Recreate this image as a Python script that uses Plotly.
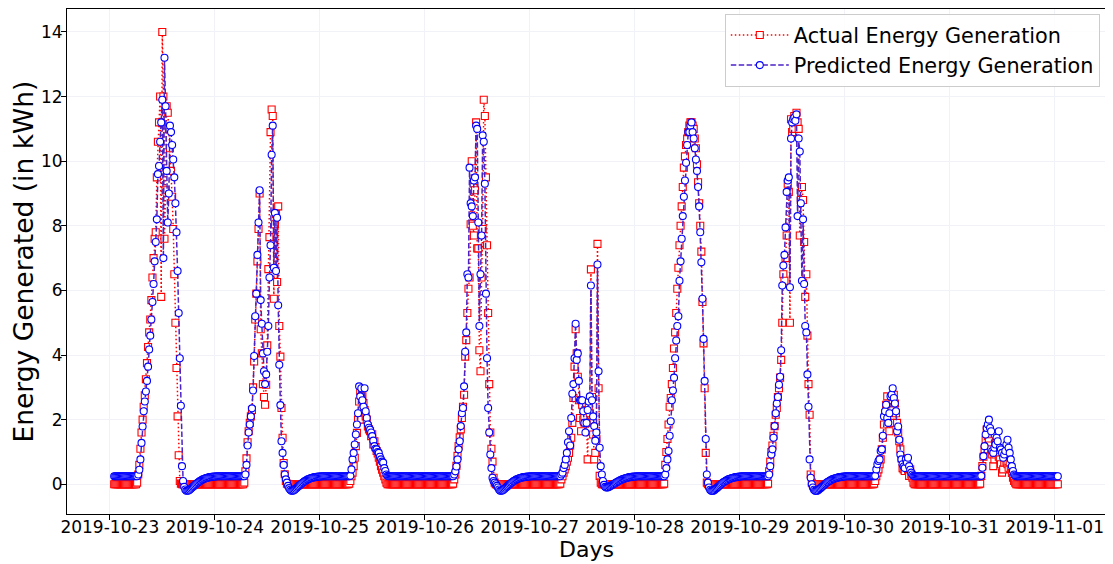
import pandas as pd
import plotly.graph_objects as go

# ---- Actual energy generation (kWh), 15-min readings, one block per day (01:00 .. 00:45) ----
act_1023 = [0,0,0,0,0,0,0,0,0,0, 0,0,0,0,0,0,0,0,0,0, 0,
 0.05,0.3,0.6,1.1,1.6,2.0,2.4,2.75,3.25,3.75,4.25,4.7,5.1,5.7,6.4,7.0,7.6,7.8,9.5,10.6,11.2,12.0,5.8,14.0,12.0,7.6,9.1,11.7,11.5,11.0,10.4,9.7,8.9,7.9,6.5,5.0,3.6,2.1,0.9,0.1,0.02,0,
 0,0,0,0,0,0,0,0,0,0, 0,0,0,0,0,0,0,0,0,0, 0,0,0,0,0,0,0,0,0,0, 0,0,0]
act_1024 = [0,0,0,0,0,0,0,0,0,0, 0,0,0,0,0,0,0,0,0,0, 0,0,0,
 0.05,0.4,0.8,1.3,1.64,1.9,2.1,2.3,3.0,3.8,5.1,5.9,6.9,7.9,9.0,4.8,4.05,3.1,2.7,2.46,3.08,4.3,6.66,7.65,10.9,11.6,11.4,5.74,8.05,8.36,6.26,8.6,4.9,3.95,2.36,1.44,0.66,0.31,0.1,0.02,0,
 0,0,0,0,0,0,0,0,0,0, 0,0,0,0,0,0,0,0,0,0, 0,0,0,0,0,0,0,0,0,0, 0,0]
act_1025 = [0,0,0,0,0,0,0,0,0,0, 0,0,0,0,0,0,0,0,0,0, 0,0,0,
 0.02,0.1,0.25,0.36,0.56,0.82,1.18,1.59,2.0,2.56,2.87,2.0,2.72,2.51,2.3,2.1,2.0,1.79,1.7,1.64,1.49,1.55,1.23,1.33,1.15,1.03,0.95,0.82,0.7,0.56,0.45,0.36,0.25,0.15,0.05,0,
 0,0,0,0,0,0,0,0,0,0, 0,0,0,0,0,0,0,0,0,0, 0,0,0,0,0,0,0,0,0,0, 0,0,0,0,0,0,0]
act_1026 = [0,0,0,0,0,0,0,0,0,0, 0,0,0,0,0,0,0,0,0,0, 0,0,
 0.02,0.15,0.3,0.57,0.88,1.18,1.45,1.7,2.05,2.4,2.77,3.95,4.46,5.3,6.05,6.4,8.05,10.0,8.0,7.7,9.1,11.2,7.3,7.3,4.15,3.5,6.4,7.9,11.9,11.4,9.5,7.4,5.3,3.1,1.6,1.1,0.7,0.2,0.05,0,0,
 0,0,0,0,0,0,0,0,0,0, 0,0,0,0,0,0,0,0,0,0, 0,0,0,0,0,0,0,0,0,0, 0,0,0]
act_1027 = [0,0,0,0,0,0,0,0,0,0, 0,0,0,0,0,0,0,0,0,0, 0,0,0,0,
 0.02,0.15,0.25,0.36,0.46,0.56,0.7,0.82,0.97,1.2,1.44,1.9,2.67,3.64,4.8,4.05,3.33,2.6,2.05,1.64,2.46,2.0,2.1,2.3,1.9,0.77,2.4,2.2,6.65,2.7,1.54,0.77,0.97,1.4,7.44,2.97,0.26,0.05,0,
 0,0,0,0,0,0,0,0,0,0, 0,0,0,0,0,0,0,0,0,0, 0,0,0,0,0,0,0,0,0,0, 0,0,0]
act_1028 = [0,0,0,0,0,0,0,0,0,0, 0,0,0,0,0,0,0,0,0,0, 0,0,0,
 0.02,0.6,1.0,1.4,1.85,2.4,2.67,3.1,3.6,4.2,4.7,5.3,6.05,6.7,7.4,8.0,8.6,9.2,9.8,10.15,10.5,10.7,10.9,11.1,11.2,11.2,11.1,11.0,10.7,10.4,9.9,9.35,8.7,8.0,7.2,5.64,4.36,2.97,0.97,0.05,0,
 0,0,0,0,0,0,0,0,0,0, 0,0,0,0,0,0,0,0,0,0, 0,0,0,0,0,0,0,0,0,0, 0,0]
act_1029 = [0,0,0,0,0,0,0,0,0,0, 0,0,0,0,0,0,0,0,0,0, 0,0,
 0.02,0.4,0.7,1.0,1.2,1.5,1.8,2.15,2.36,2.7,2.97,3.3,3.85,5.0,6.5,6.3,7.0,7.7,9.3,9.05,5.0,11.3,10.9,11.0,11.4,11.3,11.5,11.2,11.0,7.7,8.8,9.2,8.8,7.5,5.8,6.5,4.6,3.1,2.15,0.3,0.05,
 0,0,0,0,0,0,0,0,0,0, 0,0,0,0,0,0,0,0,0,0, 0,0,0,0,0,0,0,0,0,0, 0,0,0]
act_1030 = [0,0,0,0,0,0,0,0,0,0, 0,0,0,0,0,0,0,0,0,0, 0,0,0,
 0.02,0.1,0.25,0.36,0.46,0.62,0.77,1.08,1.44,1.85,2.2,2.46,2.72,2.3,1.64,1.9,2.3,2.6,2.77,2.5,2.2,1.9,1.6,1.33,1.08,0.8,0.5,0.46,0.41,0.55,0.67,0.45,0.26,0.46,0.3,0.2,0.05,0,
 0,0,0,0,0,0,0,0,0,0, 0,0,0,0,0,0,0,0,0,0, 0,0,0,0,0,0,0,0,0,0, 0,0,0,0,0]
act_1031 = [0,0,0,0,0,0,0,0,0,0, 0,0,0,0,0,0,0,0,0,0, 0,0,0,0,
 0.02,0.26,0.56,0.85,1.08,1.38,1.69,1.49,1.33,1.2,1.08,0.92,0.56,0.77,0.92,1.18,0.97,0.85,0.77,0.62,0.36,0.46,0.67,0.82,0.7,0.62,0.51,0.67,0.46,0.35,0.2,0.1,0.05,0,0,
 0,0,0,0,0,0,0,0,0,0, 0,0,0,0,0,0,0,0,0,0, 0,0,0,0,0,0,0,0,0,0, 0,0,0,0,0,0,0]

# ---- Predicted energy generation (kWh) ----
pred_1023 = [.25,.25,.25,.25,.25,.25,.25,.25,.25,.25, .25,.25,.25,.25,.25,.25,.25,.25,.25,.25, .25,
 0.25,0.3,0.45,0.77,1.28,1.79,2.26,2.56,2.87,3.2,3.64,4.17,4.6,5.1,5.64,6.2,6.9,7.5,8.2,9.6,9.85,10.6,11.2,11.9,7.0,13.2,11.7,9.7,8.1,9.0,11.1,10.9,10.5,10.05,9.5,8.7,7.8,6.6,5.3,3.9,2.43,0.56,
 0.1,-0.08,-0.16,-0.2,-0.2,-0.19,-0.17,-0.14,-0.11,-0.08,-0.05,-0.02,0.01,0.04,0.06,0.09,0.11,0.13,0.15,0.16,0.18,0.19,0.2,0.21,0.22,0.22,0.23,0.23,0.24,0.24,0.24,0.25,0.25]
pred_1024 = [.25,.25,.25,.25,.25,.25,.25,.25,.25,.25, .25,.25,.25,.25,.25,.25,.25,.25,.25,.25, .25,.25,.25,
 0.25,0.3,0.6,1.2,1.6,1.85,2.1,2.35,2.9,3.97,5.2,5.9,7.1,8.1,9.1,5.7,4.97,4.05,3.5,3.1,3.4,4.1,4.9,6.4,7.4,10.2,11.1,6.7,8.4,6.6,8.25,5.54,3.7,2.45,1.33,0.97,0.6,0.3,0.15,0.05,-0.05,
 -0.12,-0.17,-0.2,-0.2,-0.19,-0.17,-0.14,-0.11,-0.08,-0.05,-0.02,0.01,0.04,0.06,0.09,0.11,0.13,0.15,0.16,0.18,0.19,0.2,0.21,0.22,0.22,0.23,0.23,0.24,0.24,0.24,0.25,0.25]
pred_1025 = [.25,.25,.25,.25,.25,.25,.25,.25,.25,.25, .25,.25,.25,.25,.25,.25,.25,.25,.25,.25, .25,.25,.25,
 0.25,0.26,0.46,0.77,0.97,1.23,1.54,1.85,2.2,3.03,2.72,2.97,2.6,2.4,2.97,2.26,2.05,1.85,1.75,1.69,1.6,1.49,1.35,1.18,1.1,1.08,1.0,0.97,0.85,0.77,0.7,0.67,0.5,0.41,0.3,0.26,
 .25,.25,.25,.25,.25,.25,.25,.25,.25,.25, .25,.25,.25,.25,.25,.25,.25,.25,.25,.25, .25,.25,.25,.25,.25,.25,.25,.25,.25,.25, .25,.25,.25,.25,.25,.25,.25]
pred_1026 = [.25,.25,.25,.25,.25,.25,.25,.25,.25,.25, .25,.25,.25,.25,.25,.25,.25,.25,.25,.25, .25,.25,
 0.25,0.3,0.4,0.55,0.77,1.08,1.33,1.8,2.2,2.36,3.03,4.1,4.7,6.5,6.4,9.8,8.7,8.6,8.3,9.4,9.5,11.1,11.0,8.1,4.9,6.5,7.7,10.8,10.6,9.3,5.9,3.9,2.36,1.6,0.92,0.5,0.2,0.1,0.05,0.0,-0.05,
 -0.1,-0.16,-0.2,-0.2,-0.19,-0.17,-0.14,-0.11,-0.08,-0.05,-0.02,0.01,0.04,0.06,0.09,0.11,0.13,0.15,0.16,0.18,0.19,0.2,0.21,0.22,0.22,0.23,0.23,0.24,0.24,0.24,0.25,0.25,0.25]
pred_1027 = [.25,.25,.25,.25,.25,.25,.25,.25,.25,.25, .25,.25,.25,.25,.25,.25,.25,.25,.25,.25, .25,.25,.25,.25,
 0.25,0.3,0.36,0.5,0.6,0.77,0.97,1.3,1.64,1.2,2.05,2.8,3.1,3.9,4.97,3.85,4.05,3.2,2.6,2.6,2.6,2.26,1.9,1.6,1.9,2.3,2.56,2.72,6.15,2.6,2.1,1.8,1.35,1.6,6.8,3.5,1.13,0.56,0.3,
 0.1,-0.02,-0.08,-0.1,-0.1,-0.09,-0.07,-0.05,-0.03,-0.01,0.01,0.03,0.05,0.07,0.09,0.11,0.13,0.14,0.16,0.17,0.18,0.19,0.2,0.21,0.22,0.22,0.23,0.23,0.24,0.24,0.24,0.25,0.25]
pred_1028 = [.25,.25,.25,.25,.25,.25,.25,.25,.25,.25, .25,.25,.25,.25,.25,.25,.25,.25,.25,.25, .25,.25,.25,
 0.25,0.3,0.5,0.77,1.03,1.5,1.95,2.6,2.9,3.3,3.9,4.45,4.9,5.2,6.3,6.9,7.6,8.3,8.9,9.4,9.95,10.5,10.9,10.9,11.1,11.2,10.9,10.7,10.4,10.05,9.7,9.2,8.6,7.8,6.87,5.74,4.5,3.2,1.4,0.3,0.05,
 -0.1,-0.17,-0.2,-0.21,-0.2,-0.18,-0.15,-0.12,-0.09,-0.06,-0.03,0.0,0.03,0.06,0.08,0.1,0.12,0.14,0.16,0.17,0.18,0.19,0.2,0.21,0.22,0.22,0.23,0.23,0.24,0.24,0.25,0.25]
pred_1029 = [.25,.25,.25,.25,.25,.25,.25,.25,.25,.25, .25,.25,.25,.25,.25,.25,.25,.25,.25,.25, .25,.25,
 0.25,0.3,0.56,0.92,1.08,1.44,1.8,2.2,2.5,2.7,3.08,3.33,4.15,6.15,6.77,7.1,7.95,9.05,9.4,9.5,6.1,10.7,11.2,11.3,11.35,11.25,11.45,8.3,10.7,10.3,8.7,6.3,8.2,6.2,4.9,4.7,3.4,2.4,0.77,0.2,0.0,
 -0.1,-0.17,-0.2,-0.21,-0.2,-0.18,-0.15,-0.12,-0.09,-0.06,-0.03,0.0,0.03,0.06,0.08,0.1,0.12,0.14,0.16,0.17,0.18,0.19,0.2,0.21,0.22,0.22,0.23,0.23,0.24,0.24,0.25,0.25,0.25]
pred_1030 = [.25,.25,.25,.25,.25,.25,.25,.25,.25,.25, .25,.25,.25,.25,.25,.25,.25,.25,.25,.25, .25,.25,.25,
 0.25,0.26,0.46,0.62,0.72,0.77,1.03,1.08,1.5,2.1,2.26,2.46,2.05,1.9,2.2,2.72,2.77,2.97,2.67,2.5,2.26,1.64,1.79,1.38,0.92,0.77,0.62,0.55,0.5,0.77,0.67,0.82,0.56,0.45,0.36,0.3,0.26,0.25,
 .25,.25,.25,.25,.25,.25,.25,.25,.25,.25, .25,.25,.25,.25,.25,.25,.25,.25,.25,.25, .25,.25,.25,.25,.25,.25,.25,.25,.25,.25, .25,.25,.25,.25,.25]
pred_1031 = [.25,.25,.25,.25,.25,.25,.25,.25,.25,.25, .25,.25,.25,.25,.25,.25,.25,.25,.25,.25, .25,.25,.25,.25,
 0.25,0.26,0.51,0.87,1.18,1.54,1.74,1.85,2.0,1.74,1.64,1.03,0.97,1.13,1.23,1.44,1.33,1.64,1.13,1.08,0.97,0.82,0.92,1.03,1.23,1.38,1.13,0.97,0.77,0.56,0.41,0.3,0.27,0.25,0.25,
 .25,.25,.25,.25,.25,.25,.25,.25,.25,.25, .25,.25,.25,.25,.25,.25,.25,.25,.25,.25, .25,.25,.25,.25,.25,.25,.25,.25,.25,.25, .25,.25,.25,.25,.25,.25,.25]

actual_days = [act_1023, act_1024, act_1025, act_1026, act_1027, act_1028, act_1029, act_1030, act_1031]
predicted_days = [pred_1023, pred_1024, pred_1025, pred_1026, pred_1027, pred_1028, pred_1029, pred_1030, pred_1031]
for a, p in zip(actual_days, predicted_days):
    assert len(a) == 96 and len(p) == 96, (len(a), len(p))

actual = [v for d in actual_days for v in d]
predicted = [v for d in predicted_days for v in d]
timestamps = pd.date_range("2019-10-23 01:00", periods=len(actual), freq="15min")

series_names = ["Actual Energy Generation", "Predicted Energy Generation"]
x_title = "Days"
y_title = "Energy Generated (in kWh)"
y_ticks = [0, 2, 4, 6, 8, 10, 12, 14]

FONT = "DejaVu Sans"

fig = go.Figure()
fig.add_trace(go.Scatter(
    x=timestamps, y=actual, mode="lines+markers", name=series_names[0],
    line=dict(color="red", width=1.5, dash="1.5px,2.5px"),
    marker=dict(symbol="square", size=7, color="white", line=dict(color="red", width=1.1)),
))
fig.add_trace(go.Scatter(
    x=timestamps, y=predicted, mode="lines+markers", name=series_names[1],
    line=dict(color="#4b22c8", width=1.5, dash="5.5px,2.4px"),
    marker=dict(symbol="circle", size=7, color="white", line=dict(color="blue", width=1.1)),
))

t0, t1 = timestamps[0], timestamps[-1]
span = t1 - t0
x_range = [t0 - span * 0.05, t1 + span * 0.05]
ymin, ymax = min(min(actual), min(predicted)), max(max(actual), max(predicted))
yspan = ymax - ymin
y_range = [ymin - 0.05 * yspan, ymax + 0.05 * yspan]

# The page body has an 8px margin, so the figure is drawn 8px right/down of the window corner.
fig.update_layout(
    width=1105, height=556,
    margin=dict(l=59, r=8, t=1, b=50, autoexpand=False),
    paper_bgcolor="white", plot_bgcolor="white",
    font=dict(family=FONT, color="black", size=17),
    showlegend=True,
    legend=dict(
        x=0.995, y=0.99, xanchor="right", yanchor="top",
        bgcolor="rgba(255,255,255,0.85)", bordercolor="#cccccc", borderwidth=1,
        font=dict(family=FONT, size=20.8, color="black"),
        itemwidth=58,
    ),
    annotations=[
        dict(text=y_title, xref="paper", yref="paper", x=0, y=0.5, xshift=-44,
             xanchor="center", yanchor="middle", textangle=-90, showarrow=False,
             font=dict(family=FONT, size=26.5, color="black")),
        dict(text=x_title, xref="paper", yref="paper", x=0.5, y=0, yshift=-35,
             xanchor="center", yanchor="middle", showarrow=False,
             font=dict(family=FONT, size=22, color="black")),
    ],
)
fig.update_xaxes(
    range=x_range, type="date", dtick=86400000, tick0="2019-10-23",
    tickformat="%Y-%m-%d", automargin=False, ticklabelstandoff=-7,
    showline=True, linecolor="black", linewidth=1, mirror=True,
    ticks="outside", ticklen=5, tickcolor="black", tickwidth=1,
    showgrid=True, gridcolor="#f1f1f8", gridwidth=1, zeroline=False,
    tickfont=dict(family=FONT, size=17),
)
fig.update_yaxes(
    range=y_range, tickvals=y_ticks, automargin=False, ticklabelstandoff=-5,
    showline=True, linecolor="black", linewidth=1, mirror=True,
    ticks="outside", ticklen=5, tickcolor="black", tickwidth=1,
    showgrid=True, gridcolor="#f1f1f8", gridwidth=1, zeroline=False,
    tickfont=dict(family=FONT, size=17),
)

fig.write_html("out.html")
